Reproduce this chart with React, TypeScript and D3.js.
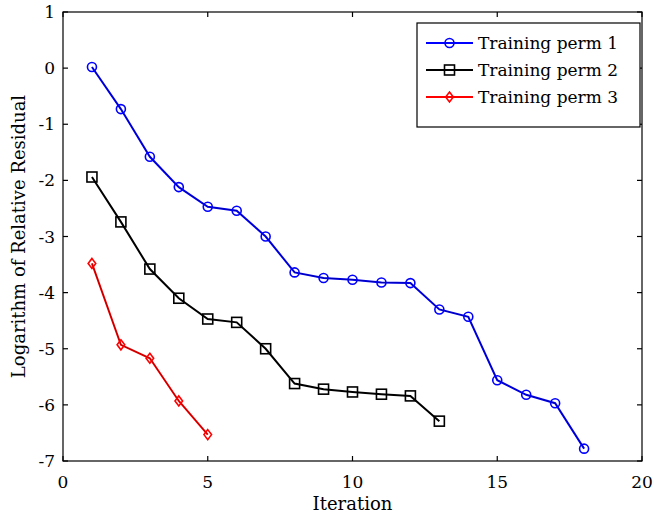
import React from "react";
import * as d3 from "d3";

const iterations1 = [1, 2, 3, 4, 5, 6, 7, 8, 9, 10, 11, 12, 13, 14, 15, 16, 17, 18];
const perm1 = [0.02, -0.73, -1.58, -2.12, -2.47, -2.54, -3.0, -3.64, -3.74, -3.77, -3.82, -3.83, -4.3, -4.43, -5.56, -5.82, -5.97, -6.78];
const iterations2 = [1, 2, 3, 4, 5, 6, 7, 8, 9, 10, 11, 12, 13];
const perm2 = [-1.94, -2.74, -3.58, -4.1, -4.47, -4.53, -5.0, -5.62, -5.72, -5.77, -5.81, -5.84, -6.29];
const iterations3 = [1, 2, 3, 4, 5];
const perm3 = [-3.48, -4.93, -5.17, -5.93, -6.53];
const xTicks = [0, 5, 10, 15, 20];
const yTicks = [-7, -6, -5, -4, -3, -2, -1, 0, 1];
const seriesNames = ["Training perm 1", "Training perm 2", "Training perm 3"];
const seriesColors = ["#0000ff", "#000000", "#ff0000"];
const seriesMarkers = ["circle", "square", "diamond"];

const W = 654;
const H = 520;
const left = 63;
const right = 642;
const top = 12;
const bottom = 461;
const FONT = "DejaVu Serif";

function Marker({ kind, x, y, color }: { kind: string; x: number; y: number; color: string }) {
  if (kind === "circle") {
    return <circle cx={x} cy={y} r={4.5} fill="none" stroke={color} strokeWidth={1.6} />;
  }
  if (kind === "square") {
    return <rect x={x - 5} y={y - 5} width={10} height={10} fill="none" stroke={color} strokeWidth={1.6} />;
  }
  return (
    <path
      d={`M${x},${y - 5} L${x + 3.8},${y} L${x},${y + 5} L${x - 3.8},${y} Z`}
      fill="none"
      stroke={color}
      strokeWidth={1.6}
    />
  );
}

export default function App() {
  const x = d3.scaleLinear().domain([0, 20]).range([left, right]);
  const y = d3.scaleLinear().domain([-7, 1]).range([bottom, top]);
  const line = d3
    .line<[number, number]>()
    .x((d) => x(d[0]))
    .y((d) => y(d[1]));

  const series = [
    { xs: iterations1, ys: perm1 },
    { xs: iterations2, ys: perm2 },
    { xs: iterations3, ys: perm3 },
  ];

  const tickLen = 5;

  return (
    <svg
      width={W}
      height={H}
      style={{ position: "absolute", left: 0, top: 0, background: "#fff" }}
      fontFamily={FONT}
    >
      <rect x={0} y={0} width={W} height={H} fill="#fff" />
      {/* axes box */}
      <rect x={left} y={top} width={right - left} height={bottom - top} fill="none" stroke="#000" strokeWidth={1.2} />
      {xTicks.map((t) => (
        <g key={"xt" + t}>
          <line x1={x(t)} x2={x(t)} y1={bottom} y2={bottom - tickLen} stroke="#000" strokeWidth={1.2} />
          <line x1={x(t)} x2={x(t)} y1={top} y2={top + tickLen} stroke="#000" strokeWidth={1.2} />
          <text x={x(t)} y={488} textAnchor="middle" fontSize={17} fill="#000">
            {t}
          </text>
        </g>
      ))}
      {yTicks.map((t) => (
        <g key={"yt" + t}>
          <line x1={left} x2={left + tickLen} y1={y(t)} y2={y(t)} stroke="#000" strokeWidth={1.2} />
          <line x1={right} x2={right - tickLen} y1={y(t)} y2={y(t)} stroke="#000" strokeWidth={1.2} />
          <text x={55} y={y(t) + 6} textAnchor="end" fontSize={17} fill="#000">
            {t}
          </text>
        </g>
      ))}
      <text x={(left + right) / 2} y={510} textAnchor="middle" fontSize={18} fill="#000">
        Iteration
      </text>
      <text
        transform={`translate(25,${(top + bottom) / 2}) rotate(-90)`}
        textAnchor="middle"
        fontSize={18}
        fill="#000"
      >
        Logarithm of Relative Residual
      </text>

      {series.map((s, i) => {
        const pts: [number, number][] = s.xs.map((v, j) => [v, s.ys[j]]);
        return (
          <g key={"s" + i}>
            <path d={line(pts) || ""} fill="none" stroke={seriesColors[i]} strokeWidth={2} />
            {i !== 1 && (
              <path d={line(pts) || ""} fill="none" stroke="#000" strokeWidth={0.7} strokeOpacity={0.45} />
            )}
            {pts.map((p, j) => (
              <Marker key={j} kind={seriesMarkers[i]} x={x(p[0])} y={y(p[1])} color={seriesColors[i]} />
            ))}
          </g>
        );
      })}

      {/* legend */}
      <rect x={417} y={23} width={223} height={104} fill="#fff" stroke="#000" strokeWidth={1.2} />
      {seriesNames.map((name, i) => {
        const ly = 43 + i * 27;
        return (
          <g key={"lg" + i}>
            <line x1={426} x2={473} y1={ly} y2={ly} stroke={seriesColors[i]} strokeWidth={2} />
            <Marker kind={seriesMarkers[i]} x={449.5} y={ly} color={seriesColors[i]} />
            <text x={478} y={ly + 6} fontSize={17} fill="#000">
              {name}
            </text>
          </g>
        );
      })}
    </svg>
  );
}
